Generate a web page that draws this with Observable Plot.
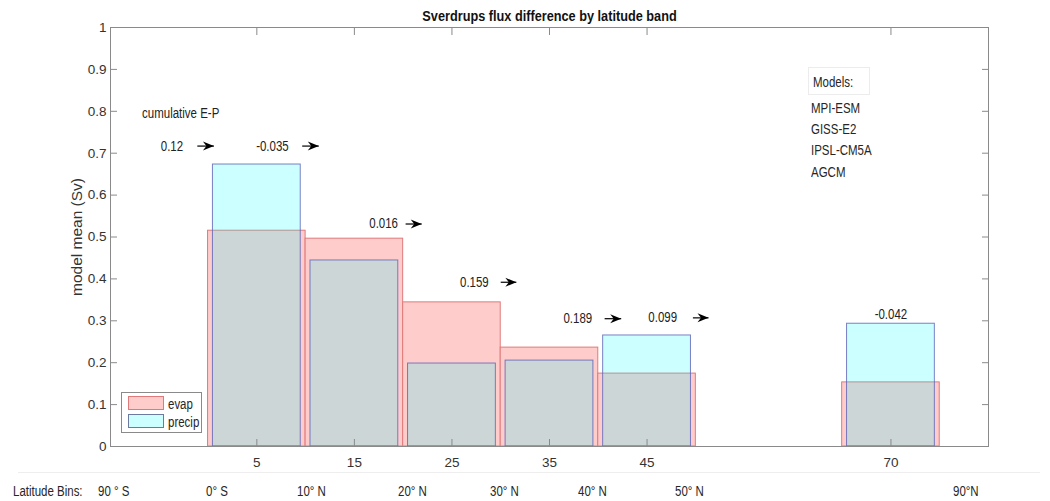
<!DOCTYPE html>
<html><head><meta charset="utf-8">
<script src="https://cdn.jsdelivr.net/npm/d3@7"></script>
<script src="https://cdn.jsdelivr.net/npm/@observablehq/plot@0.6"></script>
<style>
body{margin:0;background:#fff;}
#wrap{position:relative;width:1050px;height:501px;overflow:hidden;font-family:"Liberation Sans",Arial,sans-serif;color:#262626;}
.abs{position:absolute;white-space:nowrap;line-height:1;}
.cond{transform:scaleX(0.82);transform-origin:0 50%;}
</style></head><body><div id="wrap"></div>
<script>
// ---- data ----
const bins = [5, 15, 25, 35, 45, 70];
const evap = [0.515, 0.496, 0.344, 0.236, 0.174, 0.153];
const precip = [0.673, 0.444, 0.198, 0.205, 0.265, 0.293];
const yTicks = [0, 0.1, 0.2, 0.3, 0.4, 0.5, 0.6, 0.7, 0.8, 0.9, 1];
const cumEP = ["0.12", "-0.035", "0.016", "0.159", "0.189", "0.099", "-0.042"];
const cumEPx = [-3.7, 6.6, 18.0, 27.3, 37.9, 46.6, 70];
const cumEPy = [0.717, 0.717, 0.531, 0.392, 0.305, 0.307, 0.315];
const arrowFrom = [-1.1, 9.65, 20.25, 30.0, 40.65, 49.7];
const arrowTo = [0.6, 11.35, 21.9, 31.6, 42.35, 51.3];
const arrowY = [0.717, 0.717, 0.531, 0.392, 0.305, 0.307];
const models = ["MPI-ESM", "GISS-E2", "IPSL-CM5A", "AGCM"];
const latBins = ["90 ° S", "0° S", "10° N", "20° N", "30° N", "40° N", "50° N", "90°N"];
const seriesNames = ["evap", "precip"];

// ---- derived tables ----
const rows = bins.map((b, i) => ({bin: b, evap: evap[i], precip: precip[i]}));
const labels = cumEP.map((t, i) => ({t, x: cumEPx[i], y: cumEPy[i]}));
const arrows = arrowFrom.map((a, i) => ({x1: a, x2: arrowTo[i], y: arrowY[i]}));

const head = {draw(ctx) { ctx.moveTo(0, 0); ctx.lineTo(-11, -4.5); ctx.lineTo(-7.5, 0); ctx.lineTo(-11, 4.5); ctx.closePath(); }};
const axisColor = "#8a8a8a";

const chart = Plot.plot({
  width: 1050, height: 501,
  marginLeft: 110, marginRight: 62, marginTop: 27, marginBottom: 55,
  x: {domain: [-10, 80]},
  y: {domain: [0, 1]},
  style: {fontFamily: "Liberation Sans, Arial, sans-serif", fontSize: "13.5px", color: "#333", background: "white", overflow: "visible"},
  marks: [
    Plot.rectY(rows, {x1: d => d.bin - 5, x2: d => d.bin + 5, y1: 0, y2: "evap", fill: "rgb(255,204,204)", stroke: "#e07a7a", strokeWidth: 1}),
    Plot.rectY(rows, {x1: d => d.bin - 4.5, x2: d => d.bin + 4.5, y1: 0, y2: "precip", fill: "#00ffff", fillOpacity: 0.2, stroke: "#5a62b8", strokeOpacity: 0.8, strokeWidth: 1}),
    Plot.frame({stroke: axisColor}),
    Plot.axisY({ticks: yTicks, tickSize: -7, tickPadding: 11, tickFormat: d => String(+d.toFixed(1)), stroke: axisColor, fill: "#333", label: null}),
    Plot.axisY({anchor: "right", ticks: yTicks, tickSize: -7, stroke: axisColor, fill: "none", label: null}),
    Plot.axisX({ticks: bins, tickSize: -7, tickPadding: 18, tickFormat: d => String(d), stroke: axisColor, fill: "#333", label: null}),
    Plot.axisX({anchor: "top", ticks: bins, tickSize: -7, stroke: axisColor, fill: "none", label: null}),
    Plot.text(["Sverdrups flux difference by latitude band"], {className: "narrowtxt", frameAnchor: "top", lineAnchor: "middle", textAnchor: "middle", dy: -11, fontWeight: "bold", fontSize: 15.5, fill: "#111"}),
    Plot.text(["model mean (Sv)"], {frameAnchor: "left", lineAnchor: "middle", textAnchor: "middle", rotate: -90, dx: -33, fontSize: 15.5, fill: "#333"}),
    Plot.text(["cumulative E-P"], {className: "narrowtxt", x: -6.76, y: 0.795, textAnchor: "start", fontSize: 14, fill: "#222"}),
    Plot.text(labels, {className: "narrowtxt", x: "x", y: "y", text: "t", fontSize: 14, fill: "#222"}),
    Plot.link(arrows, {x1: "x1", x2: "x2", y1: "y", y2: "y", stroke: "black", strokeWidth: 1.2}),
    Plot.dot(arrows, {x: "x2", y: "y", symbol: head, fill: "black", stroke: "none"})
  ]
});

const wrap = document.getElementById("wrap");
wrap.appendChild(chart);
// condense selected svg texts (the original uses a narrow Helvetica)
chart.querySelectorAll(".narrowtxt text").forEach(t => {
  const w = t.getComputedTextLength();
  t.setAttribute("textLength", (w * 0.82).toFixed(1));
  t.setAttribute("lengthAdjust", "spacingAndGlyphs");
});

function addDiv(html, style, cls) {
  const d = document.createElement("div");
  d.className = "abs" + (cls ? " " + cls : "");
  d.innerHTML = html;
  Object.assign(d.style, style);
  wrap.appendChild(d);
  return d;
}
// legend
addDiv("", {left: "121px", top: "392px", width: "79px", height: "39px", border: "1px solid #8a8a8a", background: "white"});
addDiv("", {left: "128px", top: "396px", width: "34px", height: "12px", border: "1px solid #e07a7a", background: "rgb(255,204,204)"});
addDiv("", {left: "128px", top: "414px", width: "34px", height: "12px", border: "1px solid #6a7aa0", background: "#ccffff"});
addDiv(seriesNames[0], {left: "168px", top: "397px", fontSize: "14px"}, "cond");
addDiv(seriesNames[1], {left: "168px", top: "415px", fontSize: "14px"}, "cond");
// models box
addDiv("", {left: "808px", top: "67px", width: "60px", height: "26px", border: "1px solid #ececec"});
addDiv("Models:", {left: "813px", top: "75px", fontSize: "14px"}, "cond");
const modelTops = [101, 122, 143, 165];
models.forEach((m, i) => addDiv(m, {left: "811px", top: modelTops[i] + "px", fontSize: "14px"}, "cond"));
// latitude bins row
addDiv("", {left: "18px", top: "472px", width: "1022px", height: "0px", borderTop: "1px solid #eeeeee"});
addDiv("Latitude Bins:", {left: "13px", top: "484px", fontSize: "14px"}, "cond");
const latLeft = [98, 206, 297, 398, 490, 578, 675, 953];
latBins.forEach((t, i) => addDiv(t, {left: latLeft[i] + "px", top: "484px", fontSize: "14px"}, "cond"));
</script></body></html>
